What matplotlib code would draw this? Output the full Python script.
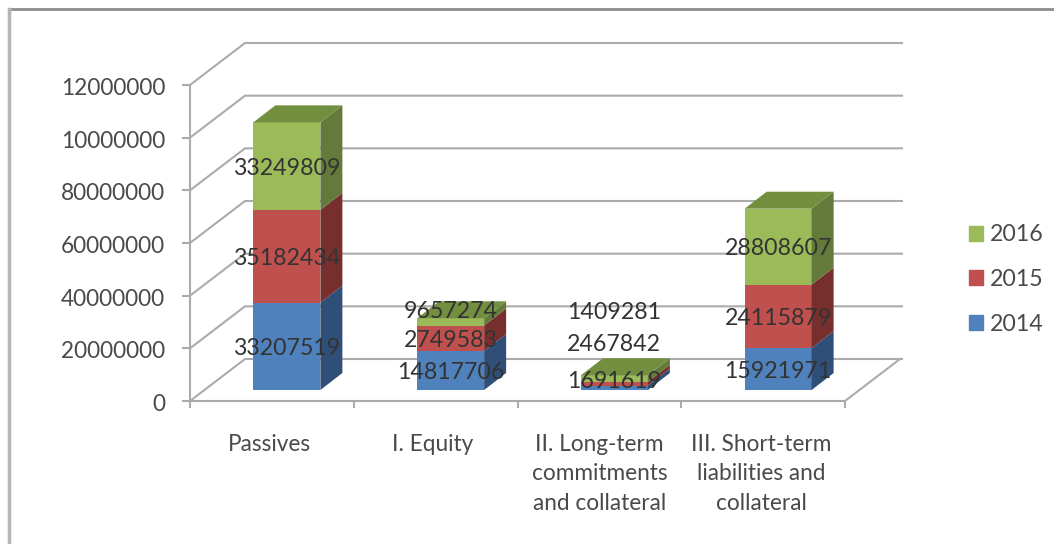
from matplotlib import pyplot as plt
from matplotlib.patches import Patch, Polygon
from matplotlib.lines import Line2D
from matplotlib.transforms import ScaledTranslation

categories = ['Passives', 'I. Equity', 'II. Long-term\ncommitments\nand collateral',
              'III. Short-term\nliabilities and\ncollateral']
years = ['2014', '2015', '2016']
v2014 = [33207519, 14817706, 1691619, 15921971]
v2015 = [35182434, 9657274, 1409281, 24115879]
v2016 = [33249809, 2749583, 2467842, 28808607]
yticks = [0, 20000000, 40000000, 60000000, 80000000, 100000000, 120000000]
# written like this in the source chart
ytick_labels = ['0', '20000000', '40000000', '60000000', '80000000', '10000000', '12000000']

# the source chart has these texts moved by hand, so they are not in stack order
label_texts = [['33207519', '35182434', '33249809'],
               ['14817706', '2749583', '9657274'],
               ['1691619', '2467842', '1409281'],
               ['15921971', '24115879', '28808607']]

front = ['#4F81BD', '#C0504D', '#9BBB59']
side = ['#2F4F78', '#762F2D', '#647A3A']
top_col = '#728F3F'
grid_col = '#ABABAB'
text_col = '#4A4A4A'

W, H = 1054, 544
# plot area in pixels
X0, X1, Y0, Y1 = 190, 902, 401, 43
PX_X = 163.75  # pixels for one category
PX_Y = 316 / 120000000  # pixels for one unit of value

fig = plt.figure(figsize=(W / 100, H / 100), dpi=100)
plt.rcParams['font.family'] = ['Lato', 'DejaVu Sans']
ax = fig.add_axes([X0 / W, 1 - Y0 / H, (X1 - X0) / W, (Y0 - Y1) / H])
ax.set_xlim(0, (X1 - X0) / PX_X)
ax.set_ylim(0, (Y0 - Y1) / PX_Y)
ax.patch.set_visible(False)

for s in ['top', 'right']:
    ax.spines[s].set_visible(False)
for s in ['left', 'bottom']:
    ax.spines[s].set_color(grid_col)
    ax.spines[s].set_linewidth(1.5)
ax.spines['left'].set_bounds(0, 120000000)
ax.spines['bottom'].set_bounds(0, 4)

ax.set_yticks(yticks)
ax.set_yticklabels(ytick_labels, fontsize=16.3, color=text_col)
ax.tick_params(axis='y', length=5.5, width=1.5, color=grid_col, pad=12.5)
down = ScaledTranslation(0, -1.5 / 100, fig.dpi_scale_trans)
for lab in ax.get_yticklabels():
    lab.set_transform(lab.get_transform() + down)
ax.set_xticks(range(5))
ax.set_xticklabels([])
ax.tick_params(axis='x', length=5, width=1.5, color=grid_col)

# back wall and floor
wall_dx = 55 / PX_X
wall_dy = 42 / PX_Y
for t in yticks:
    ax.add_line(Line2D([0, wall_dx, (X1 - X0) / PX_X], [t, t + wall_dy, t + wall_dy],
                       color=grid_col, lw=1.5, clip_on=False, zorder=1))
ax.add_line(Line2D([4, 4 + wall_dx], [0, wall_dy], color=grid_col, lw=1.5, zorder=1))

# stacked boxes
bar_w = 67 / PX_X
shift_x = 15 / PX_X
base = 11 / PX_Y
depth_x = 22 / PX_X
depth_y = 17 / PX_Y

series = [v2014, v2015, v2016]
for i in range(4):
    cx = i + 0.5 + shift_x
    left = cx - bar_w / 2
    right = cx + bar_w / 2
    y = base
    for k in range(3):
        v = series[k][i]
        ax.bar(cx, v, bar_w, bottom=y, color=front[k], zorder=3)
        ax.add_patch(Polygon([(right, y), (right + depth_x, y + depth_y),
                              (right + depth_x, y + v + depth_y), (right, y + v)],
                             color=side[k], lw=0, zorder=3))
        y += v
    ax.add_patch(Polygon([(left, y), (left + depth_x, y + depth_y),
                          (right + depth_x, y + depth_y), (right, y)],
                         color=top_col, lw=0, zorder=3))

# data labels, centred on the front faces except the moved ones
moved = {(1, 2): 309, (2, 0): 380, (2, 1): 342, (2, 2): 310}
label_drop = 2 / PX_Y
for i in range(4):
    cx = i + 0.5 + shift_x
    y = base
    for k in range(3):
        v = series[k][i]
        ypos = y + v / 2
        if (i, k) in moved:
            ypos = (Y0 - moved[(i, k)]) / PX_Y
        ax.text(cx, ypos - label_drop, label_texts[i][k], ha='center', va='center',
                fontsize=16.7, color='#333333', zorder=5)
        y += v

# category labels
label_x = [0.488, 1.48, 2.5, 3.49]
for x, c in zip(label_x, categories):
    ax.text(x, -(434 - Y0) / PX_Y, c, ha='center', va='top', fontsize=16.3,
            color=text_col, linespacing=1.49, clip_on=False)

handles = [Patch(color=front[k], label=years[k]) for k in [2, 1, 0]]
fig.legend(handles=handles, loc='center left', bbox_to_anchor=(969 / W, 1 - 279.5 / H),
           frameon=False, fontsize=16.7, labelcolor=text_col, handlelength=0.6,
           handleheight=0.6, handletextpad=0.3, labelspacing=1.02, borderpad=0,
           borderaxespad=0)

# chart frame, only the top and left edges are in the picture
fig.add_artist(Line2D([9 / W, 1], [1 - 9 / H, 1 - 9 / H], color='#8C8C8C', lw=2))
fig.add_artist(Line2D([9 / W, 9 / W], [0, 1 - 9 / H], color='#B5B5B5', lw=2.5))

fig.savefig('out.png', dpi=100)
